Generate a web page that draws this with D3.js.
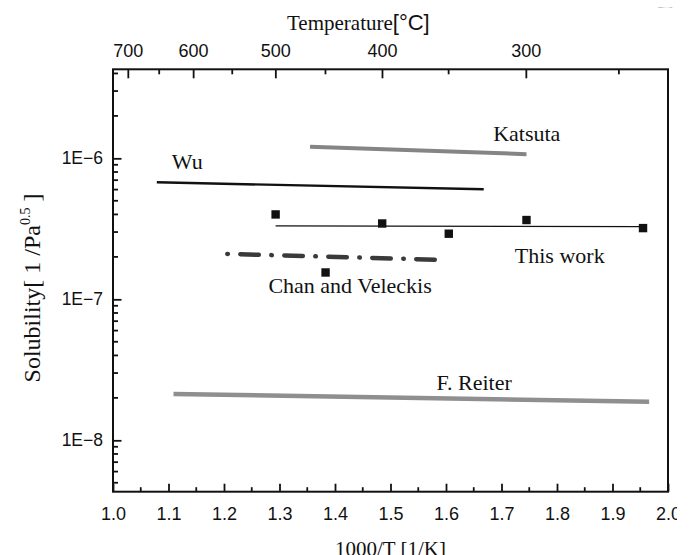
<!DOCTYPE html>
<html><head><meta charset="utf-8">
<script src="https://cdn.jsdelivr.net/npm/d3@7"></script>
<style>
html,body{margin:0;padding:0;background:#fff;}
svg{display:block;}
</style></head>
<body>
<svg id="chart" width="693" height="555"></svg>
<script>
// ---------- data ----------
const xTicks = [1.0, 1.1, 1.2, 1.3, 1.4, 1.5, 1.6, 1.7, 1.8, 1.9, 2.0];
const tempTicks = [700, 650, 600, 550, 500, 450, 400, 350, 300, 250];
const tempLabels = [700, 600, 500, 400, 300];
const yTickLabels = ["1E\u22128", "1E\u22127", "1E\u22126"];
const yTickValues = [1e-8, 1e-7, 1e-6];

const thisWorkX = [1.293, 1.383, 1.485, 1.605, 1.745, 1.955];
const thisWorkY = [4.0e-7, 1.55e-7, 3.45e-7, 2.92e-7, 3.65e-7, 3.2e-7];

const fitX = [1.293, 1.955];
const fitY = [3.32e-7, 3.28e-7];
const wuX = [1.079, 1.668];
const wuY = [6.76e-7, 6.03e-7];
const katsutaX = [1.355, 1.745];
const katsutaY = [1.21e-6, 1.07e-6];
const chanX = [1.206, 1.602];
const chanY = [2.10e-7, 1.90e-7];
const reiterX = [1.109, 1.966];
const reiterY = [2.13e-8, 1.88e-8];

const labelNames = ["Katsuta", "Wu", "This work", "Chan and Veleckis", "F. Reiter"];
const labelX = [1.685, 1.106, 1.724, 1.280, 1.583];
const labelY = [1.326e-6, 8.40e-7, 1.81e-7, 1.108e-7, 2.273e-8];

// ---------- layout ----------
const L = 113, R = 668, T = 69.3, B = 491.7;
const svg = d3.select("#chart");
const x = d3.scaleLinear().domain([1, 2]).range([L, R]);
const y = d3.scaleLog().domain([4.32e-9, 4.28e-6]).range([B, T]);
const serif = "'Liberation Serif','Times New Roman',serif";
const sans = "'Liberation Sans',Arial,sans-serif";

// ---------- series ----------
const lineGen = d3.line().x(d => x(d[0])).y(d => y(d[1]));
function seg(xs, ys){ return xs.map((v,i)=>[v, ys[i]]); }

svg.append("path").attr("d", lineGen(seg(reiterX, reiterY)))
  .attr("stroke", "#8f8f8f").attr("stroke-width", 4.5).attr("fill", "none");
svg.append("path").attr("d", lineGen(seg(katsutaX, katsutaY)))
  .attr("stroke", "#858585").attr("stroke-width", 4).attr("fill", "none");
svg.append("path").attr("d", lineGen(seg(wuX, wuY)))
  .attr("stroke", "#111").attr("stroke-width", 2.4).attr("fill", "none");
svg.append("path").attr("d", lineGen(seg(fitX, fitY)))
  .attr("stroke", "#111").attr("stroke-width", 1.2).attr("fill", "none");
svg.append("path").attr("d", lineGen(seg(chanX, chanY)))
  .attr("stroke", "#3a3a3a").attr("stroke-width", 4.5).attr("fill", "none")
  .attr("stroke-linecap", "round").attr("stroke-dasharray", "0.5 12.5 18.5 12.5");

svg.selectAll("rect.pt").data(seg(thisWorkX, thisWorkY)).enter().append("rect")
  .attr("class", "pt")
  .attr("x", d => x(d[0]) - 4.2).attr("y", d => y(d[1]) - 4.2)
  .attr("width", 8.4).attr("height", 8.4).attr("fill", "#111");

// ---------- labels ----------
svg.selectAll("text.lab").data(labelNames).enter().append("text")
  .attr("class", "lab")
  .attr("x", (d,i) => x(labelX[i])).attr("y", (d,i) => y(labelY[i]))
  .attr("font-family", serif).attr("font-size", 22).attr("fill", "#111")
  .text(d => d);

// ---------- axes ----------
// bottom
const bottom = d3.axisBottom(x).tickValues(xTicks).tickSizeInner(-8).tickSizeOuter(0)
  .tickPadding(16).tickFormat(d3.format(".1f"));
const gB = svg.append("g").attr("transform", `translate(0,${B})`).call(bottom);
const minorX = d3.range(1.05, 2.0, 0.1);
gB.selectAll("line.minor").data(minorX).enter().append("line").attr("class","minor")
  .attr("x1", d => x(d)).attr("x2", d => x(d)).attr("y1", 0).attr("y2", -4.5);

// left
const left = d3.axisLeft(y).tickValues(yTickValues).tickSizeInner(-8.5).tickSizeOuter(0)
  .tickPadding(10).tickFormat((d,i) => yTickLabels[i]);
const gL = svg.append("g").attr("transform", `translate(${L},0)`).call(left);
const minorY = [];
[1e-9, 1e-8, 1e-7, 1e-6].forEach(dec => { for (let k = 2; k <= 9; k++) { const v = dec*k; if (v > 4.32e-9 && v < 4.28e-6) minorY.push(v); } });
gL.selectAll("line.minor").data(minorY).enter().append("line").attr("class","minor")
  .attr("x1", 0).attr("x2", 5).attr("y1", d => y(d)).attr("y2", d => y(d));

// top (temperature)
const toX = t => x(1000 / (t + 273.15));
const gT = svg.append("g").attr("transform", `translate(0,${T})`);
gT.selectAll("line.tt").data(tempTicks).enter().append("line").attr("class","tt")
  .attr("x1", d => toX(d)).attr("x2", d => toX(d)).attr("y1", 0)
  .attr("y2", d => tempLabels.includes(d) ? 9 : 5);
gT.selectAll("text.tl").data(tempLabels).enter().append("text").attr("class","tl")
  .attr("x", d => toX(d)).attr("y", -12).attr("text-anchor", "middle")
  .attr("font-family", sans).attr("font-size", 18).attr("fill", "#111").text(d => d);

// frame
svg.append("rect").attr("x", L).attr("y", T).attr("width", R - L).attr("height", B - T)
  .attr("fill", "none").attr("stroke", "#111").attr("stroke-width", 2);

svg.selectAll("g .domain").remove();
svg.selectAll("g line").attr("stroke", "#111").attr("stroke-width", 1.8);
gB.selectAll("text").attr("font-family", sans).attr("font-size", 18).attr("fill", "#111");
gL.selectAll("text").attr("font-family", sans).attr("font-size", 17.5).attr("fill", "#111");

// axis titles
const tt = svg.append("text").attr("x", 287).attr("y", 30).attr("fill", "#111");
tt.append("tspan").attr("font-family", serif).attr("font-size", 21).text("Temperature");
tt.append("tspan").attr("font-family", sans).attr("font-size", 22).text("[°C]");

svg.append("text").attr("x", (L + R) / 2).attr("y", 556).attr("text-anchor", "middle")
  .attr("font-family", serif).attr("font-size", 21).attr("fill", "#111").text("1000/T [1/K]");

const yt = svg.append("text").attr("transform", "translate(40,288) rotate(-90)")
  .attr("text-anchor", "middle").attr("font-family", serif).attr("font-size", 24).attr("fill", "#111");
yt.append("tspan").text("Solubility[ 1 /Pa");
yt.append("tspan").attr("font-size", 14).attr("dy", -10).text("0.5");
yt.append("tspan").attr("dy", 10).text(" ]");

// clip right edge like the source
svg.append("rect").attr("x", 677).attr("y", 470).attr("width", 16).attr("height", 85).attr("fill", "#fff");

// tiny corner mark
svg.append("text").attr("x", 658).attr("y", 9).attr("font-family", sans).attr("font-size", 5)
  .attr("fill", "#777").text("\u2014\u00b7\u00b7 \u00b7\u2012");
</script>
</body></html>
